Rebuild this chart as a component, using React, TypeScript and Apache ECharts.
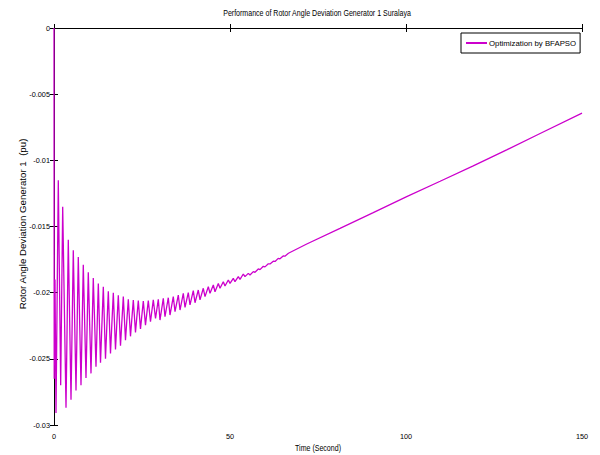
import React, { useEffect, useRef } from "react";
import * as echarts from "echarts";

const timeSec: number[] = [
  0, 0.06, 0.28, 0.57, 1.22, 1.9, 2.47, 3.41, 4.06, 4.83, 5.48, 6.25, 6.9, 7.67, 8.32, 9.09, 9.74,
  10.51, 11.16, 11.93, 12.59, 13.21, 14.01, 14.63, 15.43, 16.05, 16.85, 17.47, 18.27, 18.89, 19.69,
  20.31, 21.11, 21.73, 22.53, 23.15, 23.95, 24.57, 25.37, 25.99, 26.79, 27.41, 28.21, 28.84, 29.63,
  30.11, 31.05, 31.53, 32.47, 32.95, 33.89, 34.38, 35.31, 35.8, 36.73, 37.22, 38.15, 38.64, 39.57,
  40.06, 40.99, 41.48, 42.41, 42.9, 43.84, 44.32, 45.26, 45.74, 46.68, 47.16, 48.1, 48.58, 49.52,
  50.0, 50.94, 51.42, 52.36, 52.84, 53.78, 54.26, 55.2, 55.68, 56.62, 57.1, 58.04, 58.52, 59.46,
  59.94, 60.88, 61.36, 62.3, 62.8, 63.7, 64.2, 65.1, 65.6, 66.6, 71.8, 81.25, 90.7, 100.2, 109.7,
  119.1, 128.6, 138.1, 150,
];

const rotorAngleDev: number[] = [
  0, -0.0265, -0.019, -0.0291, -0.0115, -0.027, -0.0135, -0.0287, -0.016, -0.0281, -0.0168, -0.0274,
  -0.0173, -0.027, -0.0179, -0.02645, -0.01846, -0.0261, -0.0189, -0.0256, -0.0193, -0.0253,
  -0.01955, -0.025, -0.0199, -0.0246, -0.02, -0.0243, -0.0202, -0.024, -0.0203, -0.0236, -0.0205,
  -0.0233, -0.02055, -0.023, -0.0206, -0.02275, -0.02063, -0.02245, -0.0206, -0.0222, -0.02055,
  -0.02195, -0.0205, -0.02207, -0.02043, -0.02182, -0.02038, -0.02169, -0.0203, -0.02144, -0.02018,
  -0.02131, -0.02005, -0.02111, -0.02, -0.02093, -0.01985, -0.02076, -0.0198, -0.02055, -0.01967,
  -0.0203, -0.01955, -0.02005, -0.01942, -0.01993, -0.0193, -0.01967, -0.01917, -0.0195, -0.01904,
  -0.0193, -0.01892, -0.01917, -0.01879, -0.01899, -0.01859, -0.01879, -0.01854, -0.01867, -0.01841,
  -0.01846, -0.01821, -0.01826, -0.01801, -0.01805, -0.01782, -0.01783, -0.01762, -0.01764, -0.01741,
  -0.01744, -0.01723, -0.01724, -0.01702, -0.01632, -0.01514, -0.01395, -0.01274, -0.01158, -0.01042,
  -0.00921, -0.00797, -0.00643,
];

const xTicks = { min: 0, max: 150, interval: 50 };
const yTicks = { min: -0.03, max: 0, interval: 0.005 };

const seriesName = "Optimization by BFAPSO";
const titleText = "Performance of Rotor Angle Deviation Generator 1 Suralaya";
const xName = "Time (Second)";
const yName = "Rotor Angle Deviation Generator 1  (pu)";

const SANS = "'Liberation Sans', Arial, sans-serif";
const LINE_COLOR = "#CC00CC";

export default function App() {
  const ref = useRef<HTMLDivElement>(null);
  useEffect(() => {
    if (!ref.current) return;
    const chart = echarts.init(ref.current, null, { renderer: "svg" });
    const data = timeSec.map((t, i) => [t, rotorAngleDev[i]]);
    const fmtY = (v: number) => (Math.abs(v) < 1e-12 ? "0" : String(parseFloat(v.toFixed(3))));
    const axisLine = { show: true, lineStyle: { color: "#000", width: 1 } };
    const tick = { show: true, inside: true, length: 4, lineStyle: { color: "#000" } };
    const narrowText = (text: string, x: number, y: number) => ({
      type: "text",
      x,
      y,
      scaleX: 0.82,
      silent: true,
      style: {
        text,
        fill: "#000",
        font: `8.6px ${SANS}`,
        textAlign: "center",
        textVerticalAlign: "middle",
      },
    });
    chart.setOption({
      animation: false,
      backgroundColor: "#fff",
      graphic: [narrowText(titleText, 317, 13), narrowText(xName, 318, 448)],
      legend: {
        data: [seriesName],
        left: 461,
        top: 33,
        icon: "rect",
        itemWidth: 21,
        itemHeight: 2,
        itemGap: 4,
        padding: [6, 4, 6, 5],
        borderColor: "#000",
        borderWidth: 1,
        borderRadius: 0,
        backgroundColor: "#fff",
        textStyle: { fontSize: 7.8, color: "#000", fontFamily: SANS, padding: [0, 0, 0, -3] },
      },
      grid: { left: 54, right: 18, top: 28, bottom: 30, containLabel: false },
      xAxis: [
        {
          type: "value",
          ...xTicks,
          position: "bottom",
          axisLine,
          axisTick: tick,
          axisLabel: { fontSize: 7.3, color: "#000", fontFamily: SANS, margin: 8 },
          splitLine: { show: false },
        },
        {
          type: "value",
          ...xTicks,
          position: "top",
          axisLine,
          axisTick: tick,
          axisLabel: { show: false },
          splitLine: { show: false },
        },
      ],
      yAxis: [
        {
          type: "value",
          ...yTicks,
          position: "left",
          name: yName,
          nameLocation: "middle",
          nameGap: 27,
          nameMoveOverlap: false,
          nameTextStyle: { fontSize: 9.7, color: "#000", fontFamily: SANS, padding: [0, 0, 0, 5] },
          axisLine,
          axisTick: tick,
          axisLabel: { fontSize: 7.3, color: "#000", fontFamily: SANS, margin: 4, formatter: fmtY },
          splitLine: { show: false },
        },
        {
          type: "value",
          ...yTicks,
          position: "right",
          axisLine,
          axisTick: tick,
          axisLabel: { show: false },
          splitLine: { show: false },
        },
      ],
      series: [
        {
          name: seriesName,
          type: "line",
          data,
          showSymbol: false,
          symbol: "none",
          lineStyle: { color: LINE_COLOR, width: 1.3 },
          itemStyle: { color: LINE_COLOR },
        },
      ],
    });
    return () => chart.dispose();
  }, []);
  return (
    <div
      ref={ref}
      style={{ position: "fixed", left: 0, top: 0, width: 600, height: 455, background: "#fff" }}
    />
  );
}
